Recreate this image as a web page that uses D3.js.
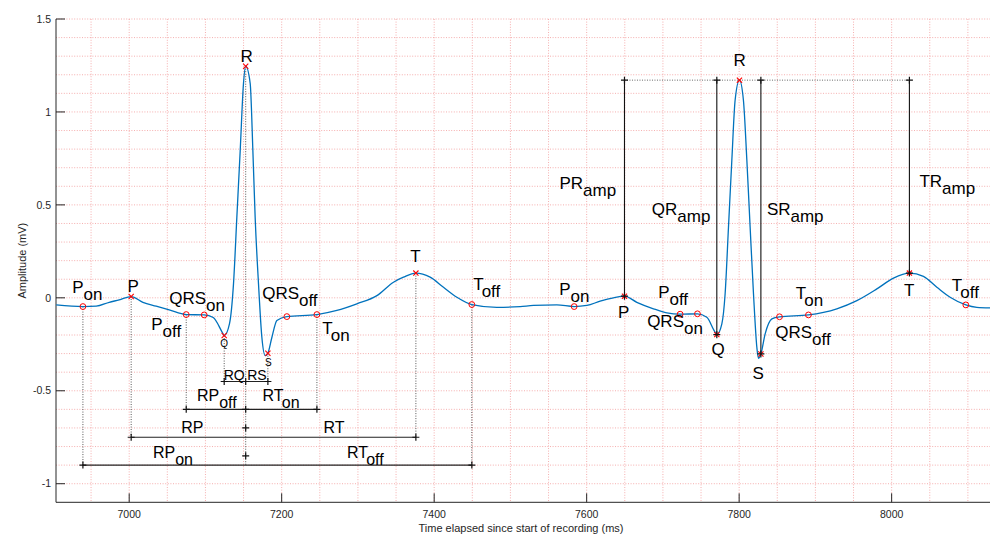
<!DOCTYPE html>
<html><head><meta charset="utf-8">
<script src="https://cdn.jsdelivr.net/npm/d3@7"></script>
<style>body{margin:0;background:#fff} svg{display:block} text{font-family:"Liberation Sans",Arial,Helvetica,sans-serif}</style>
</head><body><svg id="c" width="990" height="538"></svg>
<script>
// ---- data ----
const timeMs = [6904.3,6939.3,6956.7,6973.8,6986.9,7002.6,7018.0,7035.4,7052.5,7074.8,7098.4,7110.2,7122.9,7124.6,7131.5,7136.8,7141.2,7145.6,7149.9,7152.8,7158.7,7162.2,7165.2,7169.6,7174.0,7178.4,7181.9,7187.2,7193.7,7206.8,7246.2,7272.4,7298.6,7324.9,7346.6,7359.7,7376.0,7394.7,7412.2,7429.8,7449.4,7482.2,7512.8,7530.2,7560.9,7583.6,7600.3,7617.7,7635.1,7649.6,7665.8,7687.6,7705.2,7722.6,7745.3,7757.6,7767.2,7770.7,7777.3,7781.6,7786.0,7790.4,7794.7,7800.4,7805.6,7810.1,7814.4,7818.8,7823.2,7825.3,7828.5,7834.1,7842.9,7852.9,7890.9,7928.1,7954.4,7980.6,8002.4,8023.3,8041.7,8059.3,8076.7,8097.3,8111.7,8129.1];
const amplitudeMv = [-0.038,-0.047,-0.045,-0.024,-0.011,0.007,-0.024,-0.045,-0.065,-0.090,-0.092,-0.106,-0.192,-0.203,-0.140,0.075,0.434,0.793,1.153,1.246,1.153,0.793,0.434,0.075,-0.212,-0.311,-0.298,-0.212,-0.122,-0.101,-0.090,-0.068,-0.032,0.012,0.084,0.111,0.133,0.111,0.057,0.003,-0.036,-0.051,-0.047,-0.041,-0.038,-0.047,-0.041,-0.018,0.000,0.009,-0.024,-0.059,-0.081,-0.088,-0.086,-0.105,-0.176,-0.198,-0.140,0.022,0.380,0.740,1.063,1.171,1.063,0.740,0.380,0.022,-0.266,-0.325,-0.302,-0.194,-0.113,-0.102,-0.092,-0.059,-0.015,0.048,0.106,0.133,0.115,0.057,0.003,-0.038,-0.051,-0.054];
const fiducialNames = ["Pon","P","Poff","QRSon","Q","R","S","QRSoff","Ton","T","Toff"];
const peakNames = ["P","Q","R","S","T"];
const beat1Time = [6939.3,7002.6,7074.8,7098.4,7124.6,7152.8,7181.9,7206.8,7246.2,7376.0,7449.4];
const beat1Amp  = [-0.047,0.007,-0.090,-0.092,-0.203,1.246,-0.298,-0.101,-0.090,0.133,-0.036];
const beat2Time = [7583.6,7649.6,7722.6,7745.3,7770.7,7800.4,7828.5,7852.9,7890.9,8023.3,8097.3];
const beat2Amp  = [-0.047,0.009,-0.088,-0.086,-0.198,1.171,-0.302,-0.102,-0.092,0.133,-0.038];
const xTicks = [7000,7200,7400,7600,7800,8000];
const yTicks = [-1,-0.5,0,0.5,1,1.5];
const yTickLabels = ["-1","-0.5","0","0.5","1","1.5"];
const intervalLevels = [-0.45,-0.6,-0.75,-0.9];
const intervalFrom = ["Q","Poff","P","Pon"];
const intervalTo = ["S","Ton","T","Toff"];
const rMarkLevels = [-0.45,-0.6,-0.7,-0.85];
const ampFrom = ["P","Q","S","T"];
const ampNames = ["PR","QR","SR","TR"];
const ampLabelMv = [0.583,0.443,0.443,0.594];

// ---- setup ----
const svg = d3.select("#c");
const W = 990, H = 538;
const m = {l:56, r:990, t:19, b:502.3};
const x = d3.scaleLinear().domain([6904,8129]).range([m.l,m.r]);
const y = d3.scaleLinear().domain([-1.1,1.5]).range([m.b,m.t]);
const F = {1:{}, 2:{}};
fiducialNames.forEach((n,i)=>{F[1][n]=[beat1Time[i],beat1Amp[i]];F[2][n]=[beat2Time[i],beat2Amp[i]];});
const px = (b,n)=>[x(F[b][n][0]), y(F[b][n][1])];

// grid
const grid = svg.append("g").attr("stroke","#f29a9a").attr("stroke-width",0.8).attr("stroke-dasharray","1,1.6");
d3.range(6950,8129,50).forEach(t=>grid.append("line").attr("x1",x(t)).attr("x2",x(t)).attr("y1",m.t).attr("y2",m.b));
d3.range(-10,16,1).forEach(k=>{const v=k/10;grid.append("line").attr("x1",m.l).attr("x2",m.r).attr("y1",y(v)).attr("y2",y(v));});

// axes
const ax = svg.append("g").attr("stroke","#262626").attr("stroke-width",1);
ax.append("line").attr("x1",m.l).attr("x2",m.l).attr("y1",m.t).attr("y2",m.b);
ax.append("line").attr("x1",m.l).attr("x2",m.r).attr("y1",m.b).attr("y2",m.b);
yTicks.forEach(v=>ax.append("line").attr("x1",m.l).attr("x2",m.l+9).attr("y1",y(v)).attr("y2",y(v)));
xTicks.forEach(t=>ax.append("line").attr("x1",x(t)).attr("x2",x(t)).attr("y1",m.b).attr("y2",m.b-9));
const tl = svg.append("g").attr("fill","#262626").attr("font-size",10.5);
yTicks.forEach((v,i)=>tl.append("text").attr("x",m.l-5).attr("y",y(v)).attr("dy","0.35em").attr("text-anchor","end").text(yTickLabels[i]));
xTicks.forEach(t=>tl.append("text").attr("x",x(t)).attr("y",518).attr("text-anchor","middle").text(t));
svg.append("text").attr("x",(m.l+m.r)/2-2).attr("y",532).attr("text-anchor","middle").attr("font-size",11).attr("fill","#262626").text("Time elapsed since start of recording (ms)");
svg.append("text").attr("transform",`translate(26,${(m.t+m.b)/2}) rotate(-90)`).attr("text-anchor","middle").attr("font-size",11).attr("fill","#262626").text("Amplitude (mV)");

// helpers
function plus(g,cx,cy,s=3.5,c="#111"){g.append("path").attr("d",`M${cx-s},${cy}H${cx+s}M${cx},${cy-s}V${cy+s}`).attr("stroke",c).attr("stroke-width",1.2).attr("fill","none");}
function cross(g,cx,cy,s=2.6,c="#ff0000"){g.append("path").attr("d",`M${cx-s},${cy-s}L${cx+s},${cy+s}M${cx-s},${cy+s}L${cx+s},${cy-s}`).attr("stroke",c).attr("stroke-width",1.1).attr("fill","none");}
function label(g,lx,ly,main,sub,anchor,size){
  const t=g.append("text").attr("x",lx).attr("y",ly).attr("text-anchor",anchor).attr("font-size",size).attr("fill","#000");
  t.append("tspan").text(main);
  if(sub) t.append("tspan").attr("dy",7).text(sub);
}

// beat 1 interval annotations
const ann = svg.append("g");
const dot = ann.append("g").attr("stroke","#555").attr("stroke-width",1).attr("stroke-dasharray","1,1.5");
const R1 = px(1,"R");
intervalLevels.forEach((lv,i)=>{
  const a = px(1,intervalFrom[i]), b = px(1,intervalTo[i]);
  dot.append("line").attr("x1",a[0]).attr("x2",a[0]).attr("y1",a[1]).attr("y2",y(lv));
  dot.append("line").attr("x1",b[0]).attr("x2",b[0]).attr("y1",b[1]).attr("y2",y(lv));
});
dot.append("line").attr("x1",R1[0]).attr("x2",R1[0]).attr("y1",R1[1]).attr("y2",y(-0.9));
const sol = ann.append("g").attr("stroke","#222").attr("stroke-width",1.1);
intervalLevels.forEach((lv,i)=>{
  const a = px(1,intervalFrom[i]), b = px(1,intervalTo[i]);
  sol.append("line").attr("x1",a[0]).attr("x2",b[0]).attr("y1",y(lv)).attr("y2",y(lv));
  plus(ann,a[0],y(lv)); plus(ann,b[0],y(lv));
});
rMarkLevels.forEach(lv=>plus(ann,R1[0],y(lv)));
const ivLabels = [
  [0,"RQ","",-1,-1,"end",14],[0,"RS","",1.5,-1,"start",14],
  [1,"RP","off",-48.8,-8.7,"start",16],[1,"RT","on",16.8,-8.7,"start",16],
  [2,"RP","",-64.5,-4.5,"start",16],[2,"RT","",77.8,-4.5,"start",16],
  [3,"RP","on",-92.8,-7.6,"start",16],[3,"RT","off",101.2,-7.6,"start",16]
];
ivLabels.forEach(d=>label(ann,R1[0]+d[3],y(intervalLevels[d[0]])+d[4],d[1],d[2],d[5],d[6]));

// beat 2 amplitude annotations
const R2 = px(2,"R");
const aa = svg.append("g");
aa.append("line").attr("x1",px(2,"P")[0]).attr("x2",px(2,"T")[0]).attr("y1",R2[1]).attr("y2",R2[1]).attr("stroke","#666").attr("stroke-width",1).attr("stroke-dasharray","1,1.5");
ampFrom.forEach((n,i)=>{
  const p = px(2,n);
  aa.append("line").attr("x1",p[0]).attr("x2",p[0]).attr("y1",p[1]).attr("y2",R2[1]).attr("stroke","#111").attr("stroke-width",1.1);
});
const ampDx = [-65,-65,6,10];
ampFrom.forEach((n,i)=>label(aa,px(2,n)[0]+ampDx[i],y(ampLabelMv[i]),ampNames[i],"amp","start",17));

// curve
svg.append("path").datum(timeMs.map((t,i)=>[t,amplitudeMv[i]]))
  .attr("d",d3.line().x(d=>x(d[0])).y(d=>y(d[1])).curve(d3.curveMonotoneX))
  .attr("fill","none").attr("stroke","#0072BD").attr("stroke-width",1.3);

// markers
const mk = svg.append("g");
[1,2].forEach(b=>{
  fiducialNames.forEach(n=>{
    const p = px(b,n);
    if(peakNames.includes(n)) cross(mk,p[0],p[1]);
    else mk.append("circle").attr("cx",p[0]).attr("cy",p[1]).attr("r",2.9).attr("fill","none").attr("stroke","#ff0000").attr("stroke-width",1);
  });
});
ampFrom.forEach(n=>{const p=px(2,n); plus(mk,p[0],p[1]); plus(mk,p[0],R2[1]);});

// fiducial labels
const fl = [
  [1,"Pon","P","on",-10.7,-14,"start",17],[1,"P","P","",2,-5,"middle",17],
  [1,"QRSon","QRS","on",-35,-11.3,"start",17],[1,"Poff","P","off",-35,15,"start",17],
  [1,"Q","Q","",0,11,"middle",10],[1,"R","R","",1,-4,"middle",17],[1,"S","S","",0.5,12.3,"middle",10],
  [1,"QRSoff","QRS","off",-24.7,-18,"start",17],[1,"Ton","T","on",5.3,19,"start",17],
  [1,"T","T","",-0.5,-11,"middle",17],[1,"Toff","T","off",1.3,-15,"start",17],
  [2,"Pon","P","on",-15,-12,"start",17],[2,"P","P","",-0.8,22.3,"middle",17],
  [2,"Poff","P","off",-22,-15.7,"start",17],[2,"QRSon","QRS","on",-50.3,12.7,"start",17],
  [2,"Q","Q","",1.3,20,"middle",17],[2,"R","R","",0.2,-14.3,"middle",17],[2,"S","S","",-2.7,24.7,"middle",17],
  [2,"QRSoff","QRS","off",-4.3,21.7,"start",17],[2,"Ton","T","on",-12.6,-16.3,"start",17],
  [2,"T","T","",-0.3,23.3,"middle",17],[2,"Toff","T","off",-14,-14.3,"start",17]
];
const lg = svg.append("g");
fl.forEach(d=>{const p=px(d[0],d[1]); label(lg,p[0]+d[4],p[1]+d[5],d[2],d[3],d[6],d[7]);});
</script></body></html>
